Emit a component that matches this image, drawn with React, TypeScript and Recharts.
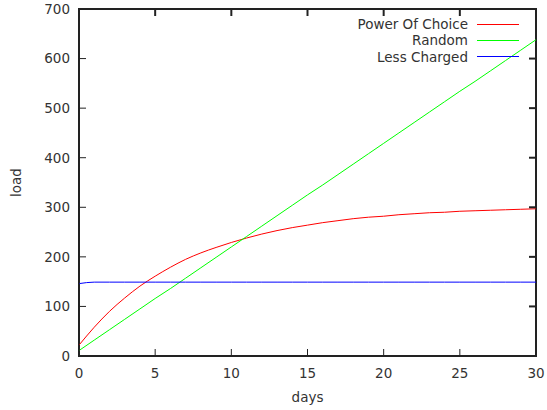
import React from 'react';
import { LineChart, Line, XAxis, YAxis, Legend, ReferenceArea } from 'recharts';

const days = [0, 1, 2, 3, 4, 5, 6, 7, 8, 9, 10, 11, 12, 13, 14, 15, 16, 17, 18, 19, 20, 21, 22, 23, 24, 25, 26, 27, 28, 29, 30];
const powerOfChoice = [22, 58, 90, 117, 141, 161, 179, 195, 208, 219, 229, 238, 246, 253, 259, 264, 269, 273, 277, 280, 282, 285, 287, 289, 290, 292, 293, 294, 295, 296, 297];
const random = [11, 32, 53, 74, 95, 116, 136, 157, 178, 199, 220, 241, 262, 283, 304, 325, 345, 366, 387, 408, 429, 450, 471, 492, 513, 534, 554, 575, 596, 617, 638];
const lessCharged = [146, 149, 149, 149, 149, 149, 149, 149, 149, 149, 149, 149, 149, 149, 149, 149, 149, 149, 149, 149, 149, 149, 149, 149, 149, 149, 149, 149, 149, 149, 149];

const seriesNames = ['Power Of Choice', 'Random', 'Less Charged'];
const xTicks = [0, 5, 10, 15, 20, 25, 30];
const yTicks = [0, 100, 200, 300, 400, 500, 600, 700];

const data = days.map((d, i) => ({
  day: d,
  poc: powerOfChoice[i],
  random: random[i],
  less: lessCharged[i],
}));

const FONT = '"DejaVu Sans", sans-serif';
const TEXT = '#333';
const AXIS = '#222';
const TICK = 7;

// plot frame edges, for the mirrored gnuplot-style ticks
const PLOT_TOP = 9;
const PLOT_RIGHT = 536;

const BottomTick = ({ x, y, payload }: any) => (
  <g>
    <line x1={x} y1={y} x2={x} y2={y - TICK} stroke={AXIS} />
    <line x1={x} y1={PLOT_TOP} x2={x} y2={PLOT_TOP + TICK} stroke={AXIS} strokeWidth={2} />
    <text x={x} y={y + 17} dy="0.36em" textAnchor="middle" fill={TEXT} fontSize={13.5} fontFamily={FONT}>
      {payload.value}
    </text>
  </g>
);

const LeftTick = ({ x, y, payload }: any) => (
  <g>
    <line x1={x} y1={y} x2={x + TICK} y2={y} stroke={AXIS} />
    <line x1={PLOT_RIGHT} y1={y} x2={PLOT_RIGHT - TICK} y2={y} stroke={AXIS} strokeWidth={2} />
    <text x={x - 9} y={y} dy="0.36em" textAnchor="end" fill={TEXT} fontSize={13.5} fontFamily={FONT}>
      {payload.value}
    </text>
  </g>
);

const XLabel = ({ viewBox }: any) => (
  <text x={viewBox.x + viewBox.width / 2} y={viewBox.y + 46} textAnchor="middle" fill={TEXT} fontSize={13.5} fontFamily={FONT}>
    days
  </text>
);

const YLabel = ({ viewBox }: any) => {
  const cx = 21;
  const cy = viewBox.y + viewBox.height / 2;
  return (
    <text x={cx} y={cy} transform={`rotate(-90, ${cx}, ${cy})`} textAnchor="middle" fill={TEXT} fontSize={13.5} fontFamily={FONT}>
      load
    </text>
  );
};

const KeyBox = ({ payload }: any) => {
  const items = [...(payload || [])].sort(
    (a: any, b: any) => seriesNames.indexOf(a.value) - seriesNames.indexOf(b.value)
  );
  return (
    <div style={{ position: 'relative', width: 547, height: 70 }}>
      {items.map((entry: any, i: number) => (
        <div key={i} style={{ position: 'absolute', top: 24 + i * 16.3 - 8, left: 0, width: 547, height: 16 }}>
          <span
            style={{
              position: 'absolute',
              right: 547 - 468,
              top: 0,
              lineHeight: '16px',
              fontSize: 13.5,
              fontFamily: FONT,
              color: TEXT,
              whiteSpace: 'nowrap',
            }}
          >
            {entry.value}
          </span>
          <div style={{ position: 'absolute', left: 477, top: 7.5, width: 42, height: 1, background: entry.color }} />
        </div>
      ))}
    </div>
  );
};

export default function App() {
  return (
    <div style={{ position: 'absolute', left: 0, top: 0, width: 547, height: 410, background: '#fff' }}>
      <LineChart width={547} height={410} data={data} margin={{ top: 9, right: 11, left: 0, bottom: 0 }}>
        <XAxis
          dataKey="day"
          type="number"
          domain={[0, 30]}
          ticks={xTicks}
          height={54}
          tickSize={0}
          tickMargin={0}
          tickLine={false}
          stroke={AXIS}
          tick={<BottomTick />}
          label={<XLabel />}
        />
        <YAxis
          type="number"
          domain={[0, 700]}
          ticks={yTicks}
          width={79}
          tickSize={0}
          tickMargin={0}
          tickLine={false}
          stroke={AXIS}
          tick={<LeftTick />}
          label={<YLabel />}
        />
        <ReferenceArea x1={0} x2={30} y1={0} y2={700} fill="none" stroke={AXIS} strokeWidth={2} ifOverflow="visible" />
        <Legend
          layout="vertical"
          align="center"
          verticalAlign="middle"
          wrapperStyle={{ position: 'absolute', top: 0, left: 0, width: 547, height: 70 }}
          content={<KeyBox />}
        />
        <Line type="monotone" dataKey="poc" name="Power Of Choice" stroke="#ff0000" strokeWidth={1} dot={false} isAnimationActive={false} />
        <Line type="linear" dataKey="random" name="Random" stroke="#00ff00" strokeWidth={1} dot={false} isAnimationActive={false} />
        <Line type="monotone" dataKey="less" name="Less Charged" stroke="#0000ff" strokeWidth={1} dot={false} isAnimationActive={false} />
      </LineChart>
    </div>
  );
}
